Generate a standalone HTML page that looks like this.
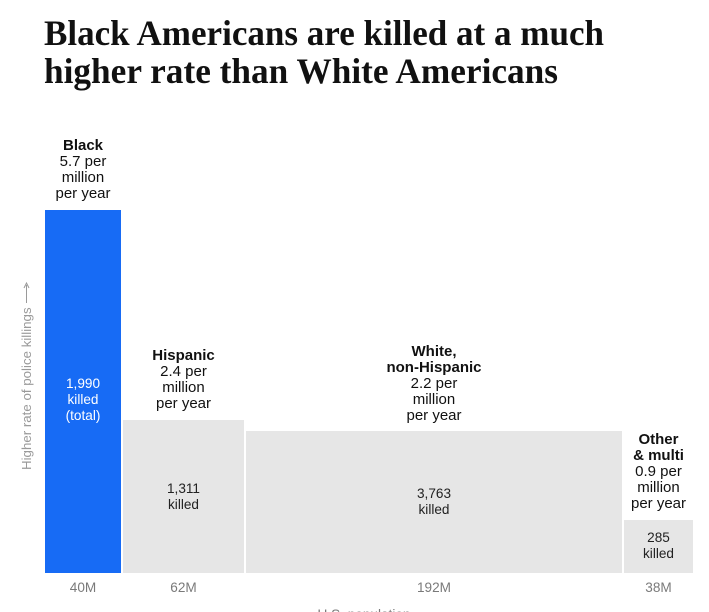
<!DOCTYPE html>
<html>
<head>
<meta charset="utf-8">
<style>
  html,body{margin:0;padding:0;background:#fff;}
  body{width:709px;height:612px;overflow:hidden;}
  svg{display:block;}
  .t{font-family:"Liberation Serif",serif;font-weight:bold;font-size:36px;fill:#111;}
  .lb{font-family:"Liberation Sans",sans-serif;font-size:15px;fill:#111;text-anchor:middle;}
  .b{font-weight:bold;}
  .in{font-family:"Liberation Sans",sans-serif;font-size:13.6px;fill:#222;text-anchor:middle;}
  .ax{font-family:"Liberation Sans",sans-serif;font-size:13.6px;fill:#7a7a7a;text-anchor:middle;}
</style>
</head>
<body>
<svg width="709" height="612" viewBox="0 0 709 612" xmlns="http://www.w3.org/2000/svg">
  <rect width="709" height="612" fill="#fff"/>
  <!-- Title -->
  <text class="t" x="44" y="45" textLength="560" lengthAdjust="spacingAndGlyphs">Black Americans are killed at a much</text>
  <text class="t" x="44" y="83" textLength="514" lengthAdjust="spacingAndGlyphs">higher rate than White Americans</text>

  <!-- Bars -->
  <rect x="45" y="210" width="76" height="363" fill="#176bf5"/>
  <rect x="123" y="420" width="121" height="153" fill="#e6e6e6"/>
  <rect x="246" y="431" width="376" height="142" fill="#e6e6e6"/>
  <rect x="624" y="520" width="69" height="53" fill="#e6e6e6"/>

  <!-- Labels above bars -->
  <text class="lb b" x="83" y="150">Black</text>
  <text class="lb" x="83" y="166">5.7 per</text>
  <text class="lb" x="83" y="182">million</text>
  <text class="lb" x="83" y="198">per year</text>

  <text class="lb b" x="183.5" y="360">Hispanic</text>
  <text class="lb" x="183.5" y="376">2.4 per</text>
  <text class="lb" x="183.5" y="392">million</text>
  <text class="lb" x="183.5" y="408">per year</text>

  <text class="lb b" x="434" y="356">White,</text>
  <text class="lb b" x="434" y="372">non-Hispanic</text>
  <text class="lb" x="434" y="388">2.2 per</text>
  <text class="lb" x="434" y="404">million</text>
  <text class="lb" x="434" y="420">per year</text>

  <text class="lb b" x="658.5" y="444">Other</text>
  <text class="lb b" x="658.5" y="460">&amp; multi</text>
  <text class="lb" x="658.5" y="476">0.9 per</text>
  <text class="lb" x="658.5" y="492">million</text>
  <text class="lb" x="658.5" y="508">per year</text>

  <!-- Inside bar labels -->
  <text class="in" x="83" y="388" style="fill:#fff">1,990</text>
  <text class="in" x="83" y="404" style="fill:#fff">killed</text>
  <text class="in" x="83" y="420" style="fill:#fff">(total)</text>

  <text class="in" x="183.5" y="493">1,311</text>
  <text class="in" x="183.5" y="509">killed</text>

  <text class="in" x="434" y="498">3,763</text>
  <text class="in" x="434" y="514">killed</text>

  <text class="in" x="658.5" y="542">285</text>
  <text class="in" x="658.5" y="558">killed</text>

  <!-- Axis labels -->
  <text class="ax" x="83" y="592">40M</text>
  <text class="ax" x="183.5" y="592">62M</text>
  <text class="ax" x="434" y="592">192M</text>
  <text class="ax" x="658.5" y="592">38M</text>
  <text class="ax" x="364" y="619">U.S. population</text>

  <!-- Y axis label -->
  <text x="0" y="0" transform="translate(31,470) rotate(-90)" style="font-family:'Liberation Sans',sans-serif;font-size:13.3px;fill:#9a9a9a;">Higher rate of police killings</text>
  <line x1="26.5" y1="303" x2="26.5" y2="285" stroke="#9a9a9a" stroke-width="1"/>
  <path d="M24 288 L26.5 283 L29 288" fill="none" stroke="#9a9a9a" stroke-width="1"/>
</svg>
</body>
</html>
